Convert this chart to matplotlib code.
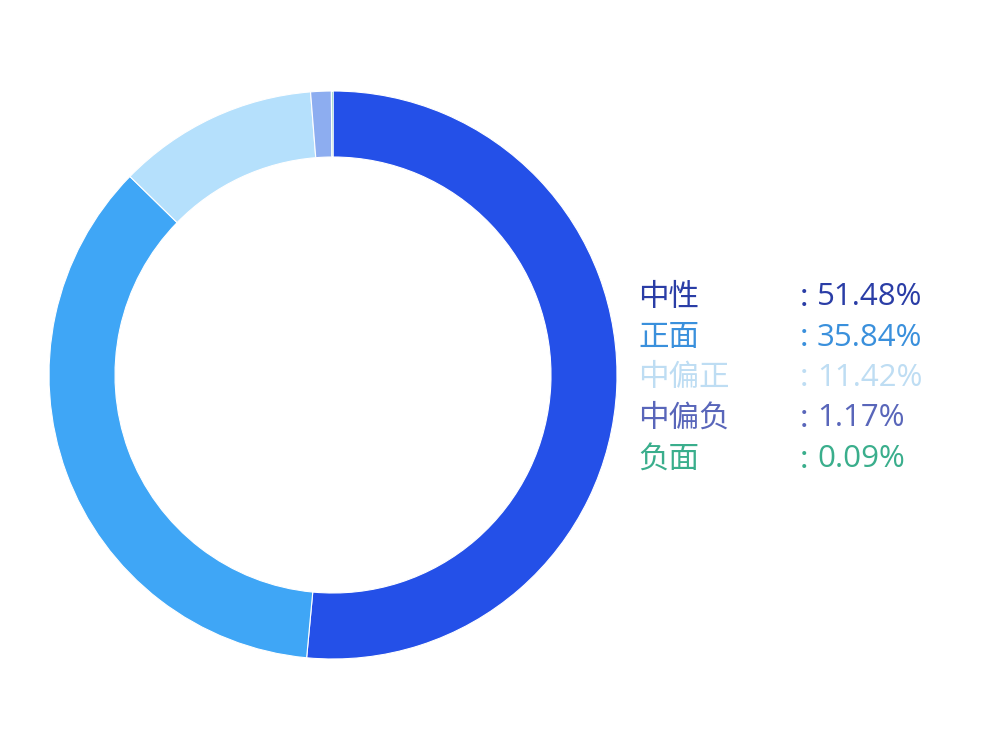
import matplotlib
matplotlib.use("Agg")
import matplotlib.pyplot as plt

plt.rcParams['font.family'] = ['Noto Sans CJK SC', 'DejaVu Sans']

labels = ['中性', '正面', '中偏正', '中偏负', '负面']
values = [51.48, 35.84, 11.42, 1.17, 0.09]
slice_colors = ['#2450E8', '#3FA6F6', '#B5E0FC', '#8DADF0', '#3DB58E']
text_colors = ['#2A3DA6', '#3A90DC', '#BEDDF3', '#5966BA', '#3AAE8C']

fig = plt.figure(figsize=(10, 7.5), dpi=100)
ax = fig.add_axes([0, 0, 1, 1])

ax.pie(values, colors=slice_colors, startangle=90, counterclock=False,
       center=(333, 375), radius=284, frame=True,
       wedgeprops=dict(width=66, edgecolor='white', linewidth=0.8))
ax.set_xlim(0, 1000)
ax.set_ylim(0, 750)
ax.set_aspect('equal')
ax.axis('off')

# legend on the right
for i, (lab, val) in enumerate(zip(labels, values)):
    y = 750 - (297 + i * 40.5)
    ax.text(638, y, lab, color=text_colors[i], fontsize=22, va='center', ha='left')
    ax.text(800, y, ':', color=text_colors[i], fontsize=22, va='center', ha='left')
    ax.text(817, y, f'{val:.2f}%', color=text_colors[i], fontsize=22.5,
            family='Open Sans', va='center', ha='left')

fig.savefig('out.png', dpi=100)
